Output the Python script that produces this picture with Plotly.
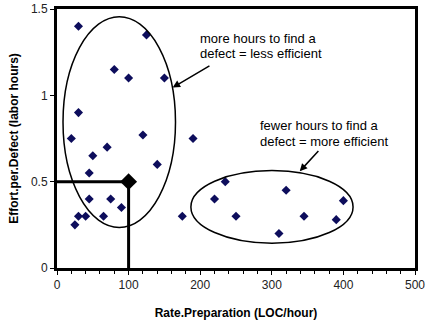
import plotly.graph_objects as go

# Data
rate_prep = [30, 125, 80, 100, 150, 30, 20, 120, 190, 70, 50, 140, 45, 45, 75, 90,
             30, 40, 65, 25, 175, 220, 235, 250, 320, 345, 310, 400, 390]
effort_per_defect = [1.40, 1.35, 1.15, 1.10, 1.10, 0.90, 0.75, 0.77, 0.75, 0.70, 0.65, 0.60,
                     0.55, 0.40, 0.40, 0.35, 0.30, 0.30, 0.30, 0.25, 0.30, 0.40, 0.50, 0.30,
                     0.45, 0.30, 0.20, 0.39, 0.28]
ref_rate = 100
ref_effort = 0.5

x_ticks = [0, 100, 200, 300, 400, 500]
y_ticks = [0, 0.5, 1, 1.5]
y_tick_labels = ["0", "0.5", "1", "1.5"]

note_high = ["more hours to find a", "defect = less efficient"]
note_low = ["fewer hours to find a", "defect = more efficient"]

# Annotation ellipses (data coordinates: x0, x1, y0, y1)
ellipse_high = [8.4, 165.5, 0.235, 1.455]
ellipse_low = [187, 413.5, 0.144, 0.564]

fig = go.Figure()

# Reference guide lines to the average point
fig.add_trace(go.Scatter(
    x=[0, ref_rate, ref_rate], y=[ref_effort, ref_effort, 0],
    mode="lines", line=dict(color="black", width=3), hoverinfo="skip", showlegend=False))

fig.add_trace(go.Scatter(
    x=rate_prep, y=effort_per_defect, mode="markers",
    marker=dict(symbol="diamond", size=7, color="#0d0d5c"), showlegend=False))

fig.add_trace(go.Scatter(
    x=[ref_rate], y=[ref_effort], mode="markers",
    marker=dict(symbol="diamond", size=13, color="black"), showlegend=False))

for e in (ellipse_high, ellipse_low):
    fig.add_shape(type="circle", xref="x", yref="y", x0=e[0], x1=e[1], y0=e[2], y1=e[3],
                  line=dict(color="black", width=1.5))

font_txt = dict(family="Arial, Liberation Sans, sans-serif", size=13, color="black")

for txt, yy in zip(note_high, [1.3285, 1.241]):
    fig.add_annotation(x=197, y=yy, xref="x", yref="y", text=txt, showarrow=False,
                       xanchor="left", yanchor="middle", align="left", font=font_txt)
for txt, yy in zip(note_low, [0.8227, 0.7355]):
    fig.add_annotation(x=281, y=yy, xref="x", yref="y", text=txt, showarrow=False,
                       xanchor="left", yanchor="middle", align="left", font=font_txt)

fig.add_annotation(x=161.5, y=1.045, ax=215, ay=1.176, xref="x", yref="y", axref="x", ayref="y",
                   text="", showarrow=True, arrowhead=2, arrowsize=1, arrowwidth=1.5, arrowcolor="black")
fig.add_annotation(x=339, y=0.56, ax=367, ay=0.686, xref="x", yref="y", axref="x", ayref="y",
                   text="", showarrow=True, arrowhead=2, arrowsize=1, arrowwidth=1.5, arrowcolor="black")

fig.update_layout(
    width=433, height=324,
    margin=dict(l=57, r=18, t=9, b=56),
    paper_bgcolor="white", plot_bgcolor="white",
    font=dict(family="Arial, Liberation Sans, sans-serif", size=12, color="#222"),
    xaxis=dict(range=[0, 500], tickvals=x_ticks, showgrid=False, zeroline=False, automargin=False,
               showline=True, linecolor="black", linewidth=3, mirror=True,
               ticks="outside", ticklen=4, tickwidth=1, tickcolor="black",
               minor=dict(dtick=20, ticks="outside", ticklen=3, tickcolor="black", showgrid=False),
               title=dict(text="<b>Rate.Preparation (LOC/hour)</b>", font=dict(size=12, color="black"), standoff=18)),
    yaxis=dict(range=[0, 1.5], tickvals=y_ticks, ticktext=y_tick_labels, showgrid=False, zeroline=False,
               automargin=False,
               showline=True, linecolor="black", linewidth=3, mirror=True,
               ticks="outside", ticklen=4, tickwidth=1, tickcolor="black",
               title=dict(text="<b>Effort.per.Defect (labor hours)</b>", font=dict(size=12, color="black"), standoff=10)),
)

fig.write_html("out.html")
